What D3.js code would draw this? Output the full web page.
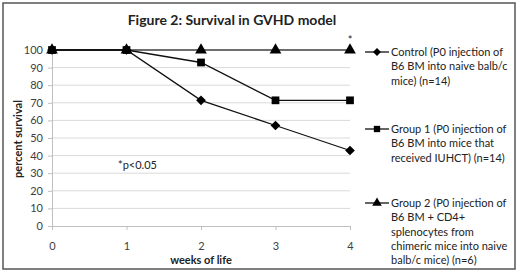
<!DOCTYPE html>
<html>
<head>
<meta charset="utf-8">
<script src="https://cdn.jsdelivr.net/npm/d3@7"></script>
<style>
  body { margin: 0; background: #fff; }
  svg { font-family: Lato, "Open Sans", sans-serif; }
</style>
</head>
<body>
<div id="chart"></div>
<script>
const weeks = [0, 1, 2, 3, 4];
const control = [100, 100, 71.4, 57.1, 42.9];
const group1 = [100, 100, 92.9, 71.4, 71.4];
const group2 = [100, 100, 100, 100, 100];
const yTicks = [0, 10, 20, 30, 40, 50, 60, 70, 80, 90, 100];
const legendLabels = [
    ["Control (P0 injection of", "B6 BM into naive balb/c", "mice) (n=14)"],
    ["Group 1 (P0 injection of", "B6 BM into mice that", "received IUHCT) (n=14)"],
    ["Group 2 (P0 injection of", "B6 BM + CD4+", "splenocytes from", "chimeric mice into naive", "balb/c mice) (n=6)"]
];

const width = 520, height = 279;

let svg = d3.select("#chart")
    .append("svg")
    .attr("width", width)
    .attr("height", height);

// outer frame
svg.append("rect")
    .attr("x", 3).attr("y", 3)
    .attr("width", 512).attr("height", 266)
    .attr("fill", "white")
    .attr("stroke", "#555")
    .attr("stroke-width", 1.5);

let x = d3.scaleLinear().domain([0, 4]).range([52, 350]);
let y = d3.scaleLinear().domain([0, 100]).range([226, 50]);

// gridlines
svg.append("g")
    .selectAll("line")
    .data(yTicks.slice(1))
    .join("line")
    .attr("x1", x(0)).attr("x2", x(4))
    .attr("y1", d => y(d)).attr("y2", d => y(d))
    .attr("stroke", "#d9d9d9")
    .attr("stroke-width", 1);

// axes
let yAxis = svg.append("g")
    .attr("transform", `translate(${x(0)},0)`)
    .call(d3.axisLeft(y).tickValues(yTicks).tickSize(4).tickPadding(5));

let xAxis = svg.append("g")
    .attr("transform", `translate(0,${y(0)})`)
    .call(d3.axisBottom(x).tickValues(weeks).tickFormat(d3.format("d")).tickSize(4).tickPadding(12));

for (let ax of [xAxis, yAxis]) {
    ax.select(".domain").attr("stroke", "#bfbfbf");
    ax.selectAll(".tick line").attr("stroke", "#bfbfbf");
    ax.selectAll(".tick text")
      .attr("fill", "#404040")
      .style("font-size", "11px")
      .style("font-family", "Lato, sans-serif");
}

// title
svg.append("text")
    .attr("x", 232).attr("y", 25)
    .attr("text-anchor", "middle")
    .style("font-size", "14px")
    .style("font-weight", "bold")
    .attr("fill", "#222")
    .text("Figure 2: Survival in GVHD model");

// axis labels
svg.append("text")
    .attr("x", x(2)).attr("y", 264)
    .attr("text-anchor", "middle")
    .style("font-size", "11px")
    .style("font-weight", "bold")
    .attr("fill", "#222")
    .text("weeks of life");

svg.append("text")
    .attr("transform", "rotate(-90)")
    .attr("x", -139).attr("y", 22)
    .attr("text-anchor", "middle")
    .style("font-size", "11px")
    .style("font-weight", "bold")
    .attr("fill", "#222")
    .text("percent survival");

const diamond = d3.symbol().type(d3.symbolDiamond2).size(60);
const square = d3.symbol().type(d3.symbolSquare).size(60);
const triangle = d3.symbol().type(d3.symbolTriangle).size(60);

const series = [
    { values: control, sym: diamond },
    { values: group1, sym: square },
    { values: group2, sym: triangle }
];

let line = d3.line()
    .x((d, i) => x(weeks[i]))
    .y(d => y(d));

// draw group 2 first so black lines sit on top
for (let s of series.slice().reverse()) {
    svg.append("path")
        .datum(s.values)
        .attr("d", line)
        .attr("fill", "none")
        .attr("stroke", s === series[2] ? "#6e6e6e" : "#111")
        .attr("stroke-width", s === series[2] ? 1.8 : 1.3);
}
for (let s of series) {
    svg.append("g")
        .selectAll("path")
        .data(s.values)
        .join("path")
        .attr("d", s.sym)
        .attr("transform", (d, i) => `translate(${x(weeks[i])},${y(d)})`)
        .attr("fill", "#000");
}

// significance marks
svg.append("text")
    .attr("x", x(4)).attr("y", 44)
    .attr("text-anchor", "middle")
    .style("font-size", "11px")
    .attr("fill", "#222")
    .text("*");

svg.append("text")
    .attr("x", 118).attr("y", 169)
    .style("font-size", "11px")
    .attr("fill", "#222")
    .text("*p<0.05");

// legend
const legendY = [52, 129, 203];
const legendSym = [diamond, square, triangle];

legendLabels.forEach((lines, k) => {
    let g = svg.append("g").attr("transform", `translate(0,${legendY[k]})`);
    g.append("line")
        .attr("x1", 365).attr("x2", 389)
        .attr("y1", 0).attr("y2", 0)
        .attr("stroke", "#111")
        .attr("stroke-width", 1.3);
    g.append("path")
        .attr("d", legendSym[k].size(40)())
        .attr("transform", "translate(377,0)")
        .attr("fill", "#000");
    let t = g.append("text")
        .attr("x", 391).attr("y", 4)
        .style("font-size", "11px")
        .attr("fill", "#222");
    t.selectAll("tspan")
        .data(lines)
        .join("tspan")
        .attr("x", 391)
        .attr("dy", (d, i) => i === 0 ? 0 : 14.3)
        .text(d => d);
});
</script>
</body>
</html>
